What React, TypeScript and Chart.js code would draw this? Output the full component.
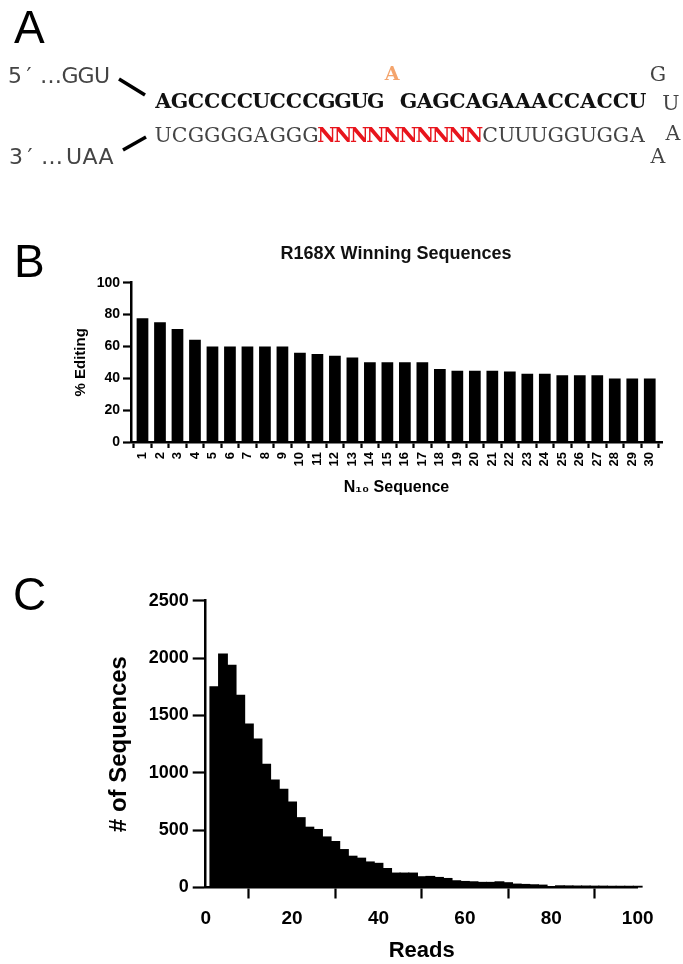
import React, { useEffect, useRef } from "react";
import { Chart, registerables } from "chart.js";

Chart.register(...registerables);

// ---------- Panel A: sequence text ----------
const fivePrimeEnd = ["5", "′", "…", "G", "G", "U"];
const threePrimeEnd = ["3", "′", "…", "U", "A", "A"];
const topStrandLeft = "AGCCCCUCCCGGUG";
const topStrandRight = "GAGCAGAAACCACCU";
const editedBase = "A";
const bottomStrandLeft = "UCGGGGAGGG";
const randomRegion = "NNNNNNNNNN";
const bottomStrandRight = "CUUUGGUGGA";
const loopBases = ["G", "U", "A", "A"];

// ---------- Panel B: R168X winning sequences ----------
const editingTitle = "R168X Winning Sequences";
const editingCategories = [1, 2, 3, 4, 5, 6, 7, 8, 9, 10, 11, 12, 13, 14, 15, 16, 17, 18, 19, 20, 21, 22, 23, 24, 25, 26, 27, 28, 29, 30];
const editingValues = [77.7, 75.2, 71.0, 64.2, 60.0, 60.0, 60.0, 60.0, 60.0, 56.0, 55.2, 54.2, 53.1, 50.0, 50.0, 50.0, 50.0, 45.9, 44.8, 44.8, 44.8, 44.2, 42.9, 42.9, 41.9, 41.9, 41.9, 39.8, 39.8, 39.8];
const editingTicks = [0, 20, 40, 60, 80, 100];

// ---------- Panel C: reads histogram ----------
const readBins = [2, 4, 6, 8, 10, 12, 14, 16, 18, 20, 22, 24, 26, 28, 30, 32, 34, 36, 38, 40, 42, 44, 46, 48, 50, 52, 54, 56, 58, 60, 62, 64, 66, 68, 70, 72, 74, 76, 78, 80, 82, 84, 86, 88, 90, 92, 94, 96, 98, 100];
const sequenceCounts = [1750, 2035, 1936, 1674, 1424, 1294, 1073, 936, 855, 745, 608, 525, 505, 440, 400, 330, 272, 255, 222, 210, 165, 125, 125, 125, 93, 96, 87, 78, 58, 52, 49, 44, 44, 49, 41, 29, 26, 23, 20, 8, 14, 13, 12, 12, 11, 11, 10, 10, 10, 10];
const readTicks = [0, 20, 40, 60, 80, 100];
const countTicks = [0, 500, 1000, 1500, 2000, 2500];

const SANS = "'Liberation Sans', Arial, 'DejaVu Sans', sans-serif";
const SERIF = "'DejaVu Serif', serif";
const END_FONT = "'DejaVu Sans', sans-serif";

const CELL = 16.35;
const STRAND_X = 155;
const cellX = (i: number) => STRAND_X + (i + 0.5) * CELL;

function PanelA() {
  const topSeq = topStrandLeft + " " + topStrandRight;
  const topChars = topSeq.split("").map((c, i) => ({ c, x: cellX(i) })).filter((o) => o.c !== " ");
  const gapIndex = topStrandLeft.length;
  const botL = bottomStrandLeft.split("").map((c, i) => ({ c, x: cellX(i) }));
  const botN = randomRegion.split("").map((c, i) => ({ c, x: cellX(i + bottomStrandLeft.length) }));
  const botR = bottomStrandRight.split("").map((c, i) => ({ c, x: cellX(i + bottomStrandLeft.length + randomRegion.length) }));
  const endX5 = [15, 29, 51, 70, 86, 102];
  const endX3 = [16, 30, 52, 74, 90, 106];
  const loopPos = [
    { x: 658, y: 81 },
    { x: 671, y: 110 },
    { x: 673, y: 140 },
    { x: 658, y: 163 },
  ];
  return (
    <g>
      <text x={14} y={43} fontFamily={SANS} fontSize={46} fill="#000">A</text>
      <text fontFamily={END_FONT} fontSize={22} fill="#444" textAnchor="middle">
        {fivePrimeEnd.map((c, i) => (
          <tspan key={i} x={endX5[i]} y={83}>{c}</tspan>
        ))}
      </text>
      <line x1={119} y1={79} x2={145} y2={95} stroke="#000" strokeWidth={3.5} />
      <text fontFamily={SERIF} fontWeight="bold" fontSize={20.5} fill="#111" textAnchor="middle">
        {topChars.map((o, i) => (
          <tspan key={i} x={o.x} y={108.3}>{o.c}</tspan>
        ))}
      </text>
      <text x={cellX(gapIndex)} y={80} fontFamily={SERIF} fontWeight="bold" fontSize={19} fill="#F4A46C" textAnchor="middle">{editedBase}</text>
      <text fontFamily={SERIF} fontSize={20.5} fill="#444" textAnchor="middle">
        {botL.map((o, i) => (
          <tspan key={"l" + i} x={o.x} y={141.7}>{o.c}</tspan>
        ))}
        {botN.map((o, i) => (
          <tspan key={"n" + i} x={o.x} y={141.7} fill="#E8141C" fontWeight="bold">{o.c}</tspan>
        ))}
        {botR.map((o, i) => (
          <tspan key={"r" + i} x={o.x} y={141.7}>{o.c}</tspan>
        ))}
      </text>
      <text fontFamily={SERIF} fontSize={20.5} fill="#444" textAnchor="middle">
        {loopBases.map((c, i) => (
          <tspan key={i} x={loopPos[i].x} y={loopPos[i].y}>{c}</tspan>
        ))}
      </text>
      <line x1={123} y1={150} x2={146} y2={137} stroke="#000" strokeWidth={3.5} />
      <text fontFamily={END_FONT} fontSize={22} fill="#444" textAnchor="middle">
        {threePrimeEnd.map((c, i) => (
          <tspan key={i} x={endX3[i]} y={164}>{c}</tspan>
        ))}
      </text>
    </g>
  );
}

export default function App() {
  const refB = useRef<HTMLCanvasElement | null>(null);
  const refC = useRef<HTMLCanvasElement | null>(null);

  useEffect(() => {
    const axisGrid = (len: number) => ({
      display: true,
      drawOnChartArea: false,
      drawTicks: true,
      tickLength: len,
      tickWidth: 2.2,
      tickColor: "#000",
    });
    const border = { display: true, color: "#000", width: 2.5 };

    const chartB = new Chart(refB.current as HTMLCanvasElement, {
      type: "bar",
      data: {
        datasets: [
          {
            data: editingCategories.map((c, i) => ({ x: c, y: editingValues[i] })),
            backgroundColor: "#000",
            borderColor: "#000",
            borderWidth: 0,
            barPercentage: 0.67,
            categoryPercentage: 1,
          },
        ],
      },
      options: {
        animation: false,
        responsive: false,
        maintainAspectRatio: false,
        layout: { padding: { top: 52.7, right: 21, left: 0, bottom: 0 } },
        plugins: { legend: { display: false }, tooltip: { enabled: false } },
        scales: {
          x: {
            type: "linear",
            min: 0.343,
            max: 30.7,
            offset: false,
            afterBuildTicks: (s: any) => {
              s.ticks = editingCategories.map((v) => ({ value: v }));
            },
            afterFit: (s: any) => {
              s.height = 58;
            },
            grid: axisGrid(6),
            border,
            ticks: {
              autoSkip: false,
              minRotation: 90,
              maxRotation: 90,
              padding: 4,
              color: "#000",
              font: { family: SANS, weight: "bold", size: 13 },
              callback: (v: any) => String(v),
            },
            title: {
              display: true,
              text: "N₁₀ Sequence",
              color: "#000",
              font: { family: SANS, weight: "bold", size: 16 },
              padding: { top: 0, bottom: 3 },
            },
          },
          y: {
            min: 0,
            max: 100,
            afterBuildTicks: (s: any) => {
              s.ticks = editingTicks.map((v) => ({ value: v }));
            },
            afterFit: (s: any) => {
              s.width = 131;
            },
            grid: axisGrid(8),
            border,
            ticks: {
              padding: 3,
              color: "#000",
              font: { family: SANS, weight: "bold", size: 14 },
              callback: (v: any) => String(v),
            },
            title: {
              display: true,
              text: "% Editing",
              color: "#000",
              font: { family: SANS, weight: "bold", size: 15 },
              padding: { top: 72, bottom: 0 },
            },
          },
        },
      },
    } as any);

    const chartC = new Chart(refC.current as HTMLCanvasElement, {
      type: "bar",
      data: {
        datasets: [
          {
            data: readBins.map((b, i) => ({ x: b, y: sequenceCounts[i] })),
            backgroundColor: "#000",
            borderColor: "#000",
            borderWidth: 0,
            inflateAmount: 0.6,
            barPercentage: 1,
            categoryPercentage: 1,
            clip: false,
          },
        ],
      },
      options: {
        animation: false,
        responsive: false,
        maintainAspectRatio: false,
        layout: { padding: { top: 40.7, right: 45.3, left: 0, bottom: 0 } },
        plugins: { legend: { display: false }, tooltip: { enabled: false } },
        scales: {
          x: {
            type: "linear",
            min: 0,
            max: 100,
            offset: false,
            afterBuildTicks: (s: any) => {
              s.ticks = readTicks.map((v) => ({ value: v }));
            },
            afterFit: (s: any) => {
              s.height = 76.5;
            },
            grid: axisGrid(11),
            border,
            ticks: {
              padding: 9,
              maxRotation: 0,
              color: "#000",
              font: { family: SANS, weight: "bold", size: 19 },
              callback: (v: any) => String(v),
            },
            title: {
              display: true,
              text: "Reads",
              color: "#000",
              font: { family: SANS, weight: "bold", size: 22 },
              padding: { top: 0, bottom: 0 },
            },
          },
          y: {
            min: 0,
            max: 2500,
            afterBuildTicks: (s: any) => {
              s.ticks = countTicks.map((v) => ({ value: v }));
            },
            afterFit: (s: any) => {
              s.width = 205.7;
            },
            grid: axisGrid(13),
            border,
            ticks: {
              padding: 4,
              color: "#000",
              font: { family: SANS, weight: "bold", size: 18 },
              callback: (v: any) => String(v),
            },
            title: {
              display: true,
              text: "# of Sequences",
              color: "#000",
              font: { family: SANS, weight: "bold", size: 24 },
              padding: { top: 104.6, bottom: 0 },
            },
          },
        },
      },
    } as any);

    return () => {
      chartB.destroy();
      chartC.destroy();
    };
  }, []);

  return (
    <div style={{ position: "absolute", left: 0, top: 0, width: 683, height: 964, background: "#fff", overflow: "hidden" }}>
      <canvas ref={refB} width={683} height={270} style={{ position: "absolute", left: 0, top: 230, width: 683, height: 270 }} />
      <canvas ref={refC} width={683} height={404} style={{ position: "absolute", left: 0, top: 560, width: 683, height: 404 }} />
      <svg width={683} height={964} style={{ position: "absolute", left: 0, top: 0, pointerEvents: "none" }}>
        <PanelA />
        <text x={14} y={277} fontFamily={SANS} fontSize={46} fill="#000">B</text>
        <text x={396} y={258.7} fontFamily={SANS} fontWeight="bold" fontSize={18} fill="#111" textAnchor="middle">{editingTitle}</text>
        <text x={13} y={610} fontFamily={SANS} fontSize={46} fill="#000">C</text>
      </svg>
    </div>
  );
}
